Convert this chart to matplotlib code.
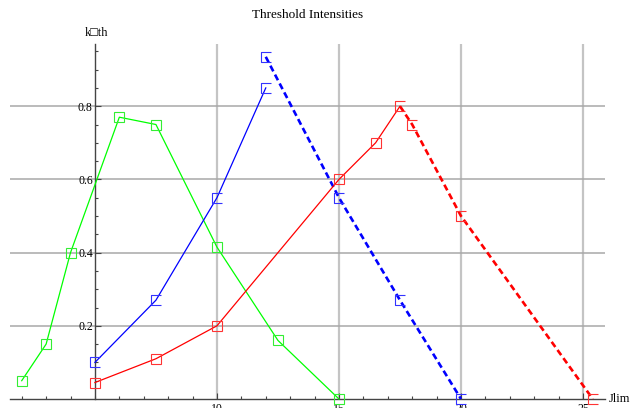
import numpy as np
import matplotlib
matplotlib.use("Agg")
from matplotlib import pyplot as plt
from matplotlib.path import Path

# data
green_x = [2, 3, 4, 6, 7.5, 10, 12.5, 15]
green_y = [0.05, 0.15, 0.40, 0.77, 0.75, 0.415, 0.16, 0.0]

blue_x = [5, 7.5, 10, 12]
blue_y = [0.10, 0.27, 0.55, 0.85]
blue_dash_x = [12, 15, 17.5, 20]
blue_dash_y = [0.935, 0.55, 0.27, 0.0]

red_x = [5, 7.5, 10, 15, 16.5, 17.5]
red_y = [0.045, 0.11, 0.20, 0.60, 0.70, 0.80]
red_dash_x = [17.5, 18, 20, 25.4]
red_dash_y = [0.80, 0.75, 0.50, 0.0]

x_ticks = [10, 15, 20, 25]
y_ticks = [0.2, 0.4, 0.6, 0.8]

serif = ["Liberation Serif", "DejaVu Serif"]
plt.rcParams["font.family"] = serif

# open square marker (left side only, like the reference)
bracket = Path([(1, 1), (-1, 1), (-1, -1), (1, -1)],
               [Path.MOVETO, Path.LINETO, Path.LINETO, Path.LINETO])

W, H = 632, 408
fig = plt.figure(figsize=(W / 100, H / 100), dpi=100)
ax = fig.add_axes([10 / W, (H - 399) / H, (605 - 10) / W, (399 - 44) / H])
ax.set_xlim(1.52, 25.9)
ax.set_ylim(0, 0.97)

# grid
ax.set_xticks(x_ticks)
ax.set_yticks(y_ticks)
ax.set_xticks(np.arange(2, 26, 1), minor=True)
ax.set_yticks(np.arange(0.05, 0.97, 0.05), minor=True)
ax.xaxis.grid(True, which="major", color="#c4c4c4", lw=1.6)
ax.yaxis.grid(True, which="major", color="#a8a8a8", lw=1.1)
ax.set_axisbelow(True)

# mathematica style axes crossing at (5, 0)
for s in ["top", "right"]:
    ax.spines[s].set_visible(False)
ax.spines["left"].set_position(("data", 5))
ax.spines["bottom"].set_position(("data", 0))
for s in ["left", "bottom"]:
    ax.spines[s].set_color("#444444")
    ax.spines[s].set_linewidth(1.0)
ax.tick_params(which="both", direction="in", color="#444444", width=0.8)
ax.tick_params(which="major", length=4.5, labelsize=8.5)
ax.tick_params(which="minor", length=2.5)
ax.tick_params(axis="x", pad=3)
ax.tick_params(axis="y", pad=1.5)
ax.set_xticklabels([str(t) for t in x_ticks])
ax.set_yticklabels([str(t) for t in y_ticks])

ms = 7.5
# green
ax.plot(green_x, green_y, color="#00ff00", lw=0.9, marker="s", ms=ms,
        mfc="none", mec="#33ee33", mew=0.8, clip_on=False, zorder=3)
# blue
ax.plot(blue_x, blue_y, color="#0000ff", lw=0.9, marker=bracket, ms=ms,
        mfc="none", mec="#3333ff", mew=0.8, clip_on=False, zorder=3)
ax.plot(blue_dash_x, blue_dash_y, color="#0000ff", lw=1.9, ls=(0, (2.4, 1.4)),
        marker=bracket, ms=ms, mfc="none", mec="#3333ff", mew=0.8,
        clip_on=False, zorder=3)
# red
ax.plot(red_x, red_y, color="#ff0000", lw=0.9, marker="s", ms=ms,
        markevery=list(range(len(red_x) - 1)),
        mfc="none", mec="#ff3333", mew=0.8, clip_on=False, zorder=3)
ax.plot(red_dash_x, red_dash_y, color="#ff0000", lw=1.9, ls=(0, (2.4, 1.4)),
        marker=bracket, ms=ms, mfc="none", mec="#ff3333", mew=0.8,
        clip_on=False, zorder=3)

# labels
fig.text(308 / W, 1 - 15 / H, "Threshold Intensities", ha="center", va="center",
         fontsize=9.5, family=serif)
fig.text(96 / W, 1 - 33 / H, "k\u25a1th", ha="center", va="center",
         fontsize=9, family=serif + ["DejaVu Sans"])
fig.text(609 / W, 1 - 399 / H, "Jlim", ha="left", va="center",
         fontsize=9, family=serif)

fig.savefig("out.png", dpi=100)
